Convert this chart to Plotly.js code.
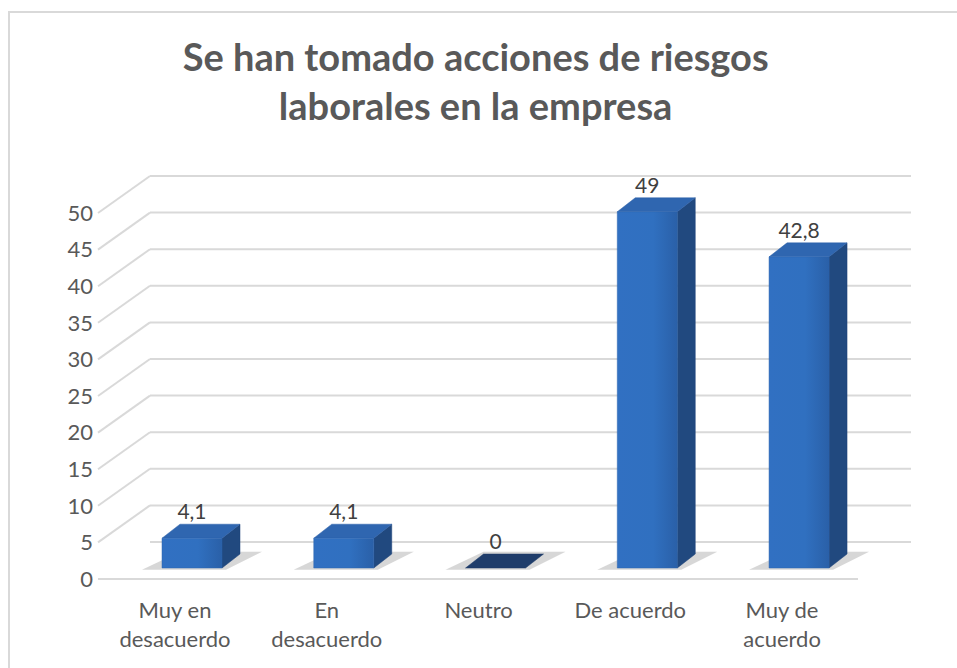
<!DOCTYPE html>
<html>
<head>
<meta charset="utf-8">
<script src="https://cdn.plot.ly/plotly-3.0.1.min.js"></script>
<style>
  html, body { margin: 0; padding: 0; background: #ffffff; }
  #wrap { position: relative; width: 957px; height: 668px; overflow: hidden; }
  #chart { width: 957px; height: 668px; }
  #frame { position: absolute; left: 8px; top: 11px; width: 1000px; height: 1000px;
           border-top: 2px solid #D9D9D9; border-left: 2px solid #D9D9D9; pointer-events: none; }
</style>
</head>
<body>
<div id="wrap"><div id="chart"></div><div id="frame"></div></div>
<script>
// ---- data ----
const categories = ['Muy en desacuerdo', 'En desacuerdo', 'Neutro', 'De acuerdo', 'Muy de acuerdo'];
const tickLabels = ['Muy en<br>desacuerdo', 'En<br>desacuerdo', 'Neutro', 'De acuerdo', 'Muy de<br>acuerdo'];
const values = [4.1, 4.1, 0, 49, 42.8];
const yTicks = [0, 5, 10, 15, 20, 25, 30, 35, 40, 45, 50];
const titleText = 'Se han tomado acciones de riesgos<br>laborales en la empresa';

// ---- geometry / style ----
const W = 957, H = 668;
const M = { l: 98, r: 37, t: 150, b: 68 };
const plotW = W - M.l - M.r, plotH = H - M.t - M.b;
const xRange = [-0.6194, 4.797];
const yRange = [-4.402, 57.497];      // bar axis
const y2Range = [-2.869, 58.607];     // tick/grid axis
const xPx = plotW / (xRange[1] - xRange[0]);
const yPx = plotH / (yRange[1] - yRange[0]);
const y2Px = plotH / (y2Range[1] - y2Range[0]);
const barW = 60 / xPx;
const dX = 18 / xPx, dY = 14 / yPx;
const gridOff = 37 / y2Px;
const TXT = '#595959';
const FONT = 'Lato, "Open Sans", sans-serif';

const pos = categories.map((c, i) => i);
const fmt = v => String(v).replace('.', ',');

const traces = [];
// shadows on the floor
pos.forEach((x, i) => {
  const xl = x - barW / 2, xr = x + barW / 2;
  traces.push({
    type: 'scatter', mode: 'lines', fill: 'toself', hoverinfo: 'skip', showlegend: false,
    x: [xl - 20 / xPx, xr + 4 / xPx, xr + dX + 22 / xPx, xl + dX, xl - 20 / xPx],
    y: [-0.25, -0.25, dY + 0.3, dY + 0.3, -0.25],
    line: { width: 0 }, fillcolor: 'rgba(110,110,110,0.28)'
  });
});
// side faces
pos.forEach((x, i) => {
  const v = values[i];
  if (v <= 0) return;
  const xr = x + barW / 2;
  traces.push({
    type: 'scatter', mode: 'lines', fill: 'toself', hoverinfo: 'skip', showlegend: false,
    x: [xr, xr, xr + dX, xr + dX, xr],
    y: [0, v, v + dY, dY, 0],
    line: { width: 0.5, color: '#1E4378' }, fillcolor: '#21497F'
  });
});
// top faces
pos.forEach((x, i) => {
  const v = values[i];
  const xl = x - barW / 2, xr = x + barW / 2;
  traces.push({
    type: 'scatter', mode: 'lines', fill: 'toself', hoverinfo: 'skip', showlegend: false,
    x: [xl, xr, xr + dX, xl + dX, xl],
    y: [v, v, v + dY, v + dY, v],
    line: { width: 0.5, color: v > 0 ? '#2C61A8' : '#1D3A66' },
    fillcolor: v > 0 ? '#2F66B0' : '#1F3D6B'
  });
});
// front faces
pos.forEach((x, i) => {
  const v = values[i];
  if (v <= 0) return;
  const xl = x - barW / 2, xr = x + barW / 2;
  traces.push({
    type: 'scatter', mode: 'lines', fill: 'toself', hoverinfo: 'skip', showlegend: false,
    x: [xl, xr, xr, xl, xl],
    y: [0, 0, v, v, 0],
    line: { width: 0.5, color: '#2D64AE' },
    fillcolor: '#2F69B8',
    fillgradient: { type: 'horizontal', colorscale: [[0, '#3170C2'], [0.6, '#3070C0'], [1, '#2A60A8']] }
  });
});
// value labels
traces.push({
  type: 'scatter', mode: 'text', x: pos, y: values.map(v => v + dY),
  text: values.map(fmt), textposition: 'top center', showlegend: false, hoverinfo: 'skip',
  textfont: { family: FONT, size: 21, color: '#404040' }
});
// dummy trace to attach y2 axis
traces.push({ type: 'scatter', mode: 'markers', x: [], y: [], yaxis: 'y2', showlegend: false });

// gridlines (3D walls) from tick values
const shapes = [];
const px2paper = p => (p - M.l) / plotW;
yTicks.forEach(t => {
  const ln = { color: '#D9D9D9', width: 2 };
  if (t === 0) {
    shapes.push({ type: 'line', layer: 'below', xref: 'paper', yref: 'y2', x0: px2paper(98), x1: px2paper(858), y0: t, y1: t, line: ln });
  } else {
    shapes.push({ type: 'line', layer: 'below', xref: 'paper', yref: 'y2', x0: px2paper(98), x1: px2paper(150), y0: t, y1: t + gridOff, line: ln });
  }
  shapes.push({ type: 'line', layer: 'below', xref: 'paper', yref: 'y2', x0: px2paper(150), x1: px2paper(911), y0: t + gridOff, y1: t + gridOff, line: ln });
});

const layout = {
  width: W, height: H,
  margin: M,
  paper_bgcolor: '#ffffff', plot_bgcolor: 'rgba(0,0,0,0)',
  font: { family: FONT, color: TXT },
  title: {
    text: titleText, x: 0.497, xanchor: 'center', y: 1 - 71 / H, yanchor: 'top', yref: 'container',
    font: { family: FONT, size: 38, color: TXT, weight: 'bold' }
  },
  xaxis: {
    range: xRange, tickvals: pos.map(p => p - 0.112), ticktext: tickLabels,
    showgrid: false, zeroline: false, showline: false, ticks: '',
    tickfont: { family: FONT, size: 22, color: TXT }, fixedrange: true, ticklabelstandoff: -5
  },
  yaxis: { range: yRange, visible: false, fixedrange: true },
  yaxis2: {
    range: y2Range, overlaying: 'y', side: 'left', tickvals: yTicks,
    showgrid: false, zeroline: false, showline: false, ticks: '',
    tickfont: { family: FONT, size: 22, color: TXT }, fixedrange: true, ticklabelstandoff: 4
  },
  shapes: shapes
};

Plotly.newPlot('chart', traces, layout, { staticPlot: true, displayModeBar: false });
</script>
</body>
</html>
